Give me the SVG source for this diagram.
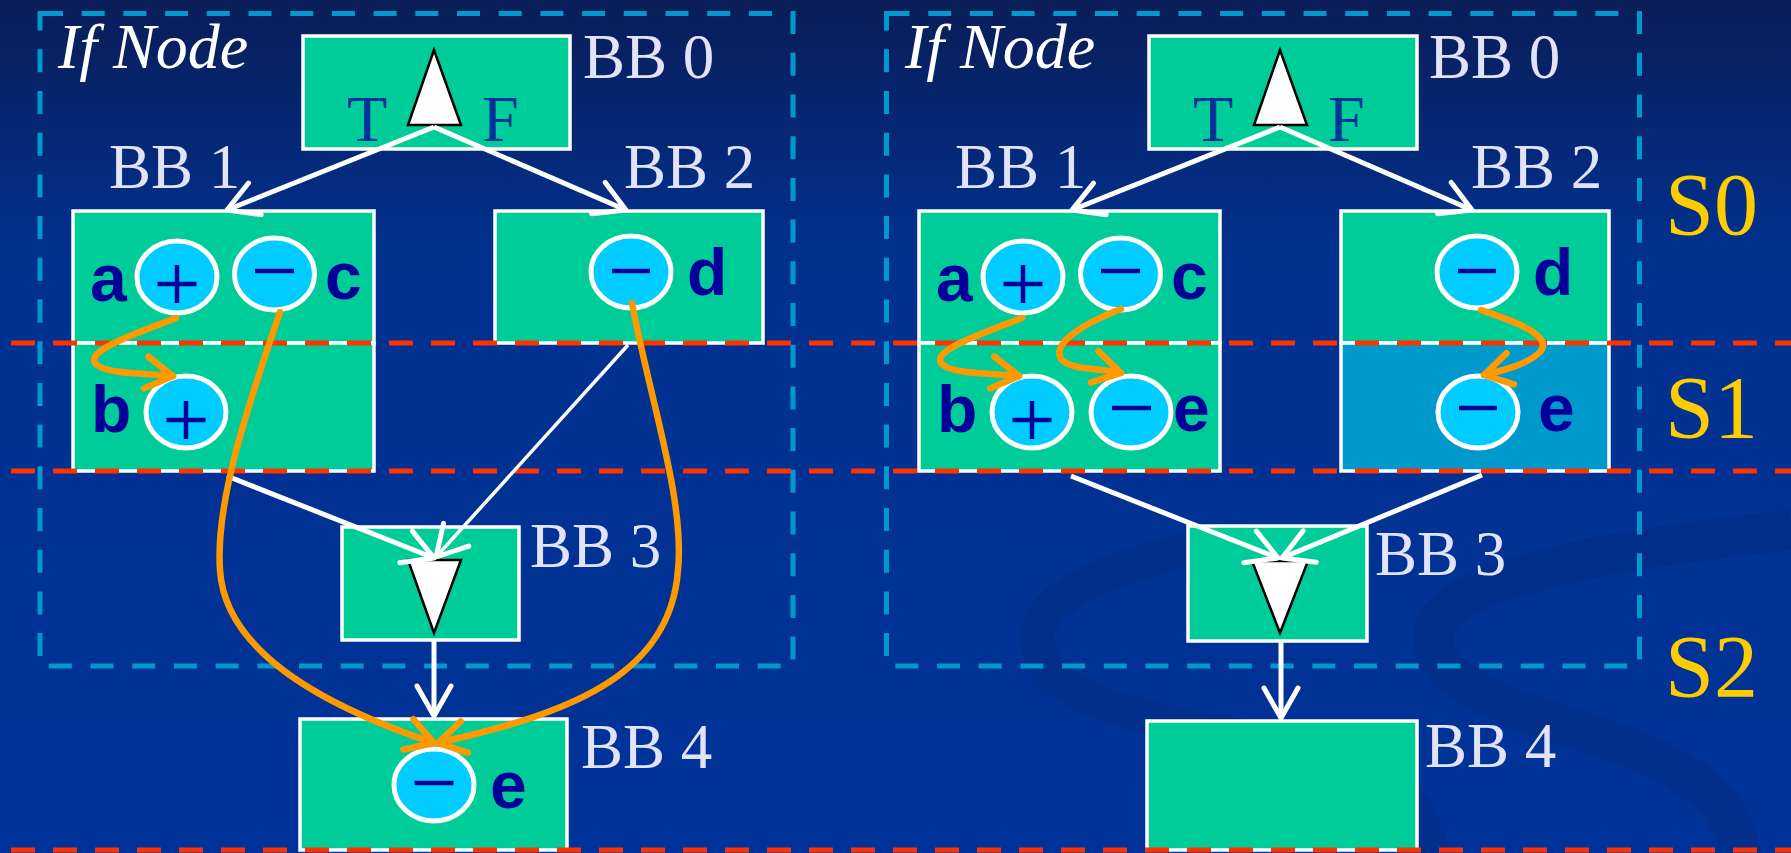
<svg xmlns="http://www.w3.org/2000/svg" width="1791" height="853" viewBox="0 0 1791 853">
<defs>
<linearGradient id="bg" x1="0" y1="0" x2="0" y2="853" gradientUnits="userSpaceOnUse">
<stop offset="0" stop-color="#0a1d58"/>
<stop offset="0.3" stop-color="#01318f"/>
<stop offset="1" stop-color="#003399"/>
</linearGradient>
<marker id="wa" markerUnits="userSpaceOnUse" viewBox="-40 -20 44 40" refX="0" refY="0" markerWidth="44" markerHeight="40" orient="auto" overflow="visible">
<path d="M-30,-17 L0,0 L-30,17" fill="none" stroke="#ffffff" stroke-width="5" stroke-linecap="round" stroke-linejoin="round"/>
</marker>
<marker id="oa" markerUnits="userSpaceOnUse" viewBox="-40 -20 44 40" refX="0" refY="0" markerWidth="44" markerHeight="40" orient="auto" overflow="visible">
<path d="M-27,-16 L0,0 L-27,16" fill="none" stroke="#ff9900" stroke-width="6.5" stroke-linecap="round" stroke-linejoin="round"/>
</marker>
</defs>
<style>
.box{fill:#00cc99;stroke:#ffffff;stroke-width:3.5}
.box2{fill:#0099cc;stroke:#ffffff;stroke-width:3.5}
.tri{fill:#ffffff;stroke:#000000;stroke-width:2.5;stroke-linejoin:miter}
.op{fill:#00ccff;stroke:#ffffff;stroke-width:5}
.sign{fill:none;stroke:#000099;stroke-width:4.5}
.bb{font-family:"Liberation Serif","Times New Roman",serif;font-size:63px;fill:#e2e2f8}
.tf{font-family:"Liberation Serif","Times New Roman",serif;font-size:66px;fill:#003399}
.var{font-family:"Liberation Sans",Arial,sans-serif;font-weight:bold;font-size:66px;fill:#000099}
.ifn{font-family:"Liberation Serif","Times New Roman",serif;font-style:italic;font-size:64px;fill:#ffffff}
.stage{font-family:"Liberation Serif","Times New Roman",serif;font-size:88px;fill:#ffcc00}
.region{fill:none;stroke:#0099cc;stroke-width:5;stroke-dasharray:23 18.7}
.cut{stroke:#ff3300;stroke-width:5;stroke-dasharray:24 18;stroke-dashoffset:31}
.w{fill:none;stroke:#ffffff;stroke-width:5;marker-end:url(#wa)}
.wt{fill:none;stroke:#ffffff;stroke-width:3.5;marker-end:url(#wa)}
.o{fill:none;stroke:#ff9900;stroke-width:6.5;stroke-linecap:round;marker-end:url(#oa)}
</style>
<rect x="0" y="0" width="1791" height="853" fill="url(#bg)"/>
<g id="background-swirls" fill="none" stroke="#032b85" stroke-opacity="0.6">
<path stroke-width="40" d="M1791,530 C1600,550 1445,580 1434,630 C1425,680 1500,705 1580,730 C1680,760 1735,800 1740,853"/>
<path stroke-width="34" d="M1250,535 C1100,565 1035,600 1037,640 C1040,690 1110,715 1250,738 C1380,760 1425,800 1432,853"/>
</g>
<g id="regions">
<rect class="region" x="40" y="13.5" width="753" height="652.5"/>
<rect class="region" x="886.5" y="13.5" width="753" height="652.5"/>
<text class="ifn" x="58" y="68">If Node</text>
<text class="ifn" x="905" y="68">If Node</text>
</g>
<g id="left-bb0">
<rect class="box" x="303" y="36" width="267" height="113"/>
<polygon class="tri" points="434,50 408,125 461,125"/>
<text class="tf" x="347" y="141">T</text>
<text class="tf" x="482" y="141">F</text>
<text class="bb" x="583" y="78">BB 0</text>
</g>
<g id="left-bb1">
<rect class="box" x="73" y="211" width="301" height="132"/>
<rect class="box" x="73" y="343" width="301" height="128"/>
<text class="bb" x="109" y="188">BB 1</text>
<text class="var" x="90" y="301">a</text>
<ellipse class="op" cx="177" cy="277" rx="40" ry="36"/>
<path class="sign" d="M157.5,284 H196.5 M177,265 V303"/>
<ellipse class="op" cx="274.5" cy="274" rx="40" ry="36"/>
<path class="sign" d="M255,271 H294" stroke-width="5"/>
<text class="var" x="325" y="299">c</text>
<text class="var" x="91" y="432">b</text>
<ellipse class="op" cx="186" cy="412" rx="40" ry="36"/>
<path class="sign" d="M166.5,420 H205.5 M186,401 V439"/>
</g>
<g id="left-bb2">
<rect class="box" x="495" y="211" width="268" height="132"/>
<text class="bb" x="624" y="188">BB 2</text>
<ellipse class="op" cx="631" cy="272" rx="40" ry="36"/>
<path class="sign" d="M612,271 H650" stroke-width="5"/>
<text class="var" x="687" y="295">d</text>
</g>
<g id="left-bb3">
<rect class="box" x="342" y="527" width="177" height="113"/>
<polygon class="tri" points="408,560 461,560 434,633"/>
<text class="bb" x="530" y="567">BB 3</text>
</g>
<g id="left-bb4">
<rect class="box" x="300" y="719" width="267" height="131"/>
<ellipse class="op" cx="434" cy="785" rx="40" ry="36"/>
<path class="sign" d="M414.5,783 H453.5" stroke-width="5"/>
<text class="var" x="490" y="808">e</text>
<text class="bb" x="581" y="768">BB 4</text>
</g>
<g id="right-bb0">
<rect class="box" x="1149" y="36" width="268" height="113"/>
<polygon class="tri" points="1280,50 1254,125 1307,125"/>
<text class="tf" x="1193" y="141">T</text>
<text class="tf" x="1328" y="141">F</text>
<text class="bb" x="1429" y="78">BB 0</text>
</g>
<g id="right-bb1">
<rect class="box" x="919" y="211" width="301" height="132"/>
<rect class="box" x="919" y="343" width="301" height="128"/>
<text class="bb" x="955" y="188">BB 1</text>
<text class="var" x="936" y="301">a</text>
<ellipse class="op" cx="1023" cy="277" rx="40" ry="36"/>
<path class="sign" d="M1003.5,284 H1042.5 M1023,265 V303"/>
<ellipse class="op" cx="1120.5" cy="274" rx="40" ry="36"/>
<path class="sign" d="M1101,271 H1140" stroke-width="5"/>
<text class="var" x="1171" y="299">c</text>
<text class="var" x="937" y="432">b</text>
<ellipse class="op" cx="1032" cy="412" rx="40" ry="36"/>
<path class="sign" d="M1012.5,420 H1051.5 M1032,401 V439"/>
<ellipse class="op" cx="1131" cy="412" rx="40" ry="36"/>
<path class="sign" d="M1112,408 H1151" stroke-width="5"/>
<text class="var" x="1173" y="431">e</text>
</g>
<g id="right-bb2">
<rect class="box" x="1341" y="211" width="268" height="132"/>
<rect class="box2" x="1341" y="343" width="268" height="128"/>
<text class="bb" x="1471" y="188">BB 2</text>
<ellipse class="op" cx="1477" cy="272" rx="40" ry="36"/>
<path class="sign" d="M1458,271 H1496" stroke-width="5"/>
<text class="var" x="1533" y="295">d</text>
<ellipse class="op" cx="1478" cy="412" rx="40" ry="36"/>
<path class="sign" d="M1459,408 H1497" stroke-width="5"/>
<text class="var" x="1538" y="431">e</text>
</g>
<g id="right-bb3">
<rect class="box" x="1188" y="526" width="179" height="115"/>
<polygon class="tri" points="1252,561 1308,561 1280,633"/>
<text class="bb" x="1375" y="575">BB 3</text>
</g>
<g id="right-bb4">
<rect class="box" x="1147" y="721" width="270" height="129"/>
<text class="bb" x="1425" y="767">BB 4</text>
</g>
<g id="stages">
<line class="cut" x1="0" y1="343" x2="1791" y2="343"/>
<line class="cut" x1="0" y1="471" x2="1791" y2="471"/>
<line class="cut" x1="0" y1="850" x2="1791" y2="850"/>
<text class="stage" x="1665" y="234">S0</text>
<text class="stage" x="1665" y="437">S1</text>
<text class="stage" x="1665" y="696">S2</text>
</g>
<g id="connectors">
<line class="w" x1="434" y1="127" x2="227" y2="210"/>
<line class="w" x1="434" y1="127" x2="626" y2="210"/>
<line class="w" x1="227" y1="476" x2="434" y2="558"/>
<line class="wt" x1="628" y1="345" x2="436" y2="557"/>
<line class="w" x1="434" y1="640" x2="434" y2="716"/>
<line class="w" x1="1280" y1="127" x2="1072" y2="210"/>
<line class="w" x1="1280" y1="127" x2="1472" y2="210"/>
<line class="w" x1="1071" y1="476" x2="1278" y2="558"/>
<line class="w" x1="1482" y1="475" x2="1282" y2="558"/>
<line class="w" x1="1281" y1="640" x2="1281" y2="718"/>
<path class="o" d="M176,318 C140,332 80,352 97,365 C110,375 150,373 173,376"/>
<path class="o" d="M280,312 C250,400 215,500 220,570 C225,650 320,705 434,743"/>
<path class="o" d="M632,303 C650,400 685,500 678,570 C670,680 560,715 438,743"/>
<path class="o" d="M1022,318 C986,332 926,352 943,365 C956,375 996,373 1019,376"/>
<path class="o" d="M1121,309 C1080,325 1050,345 1062,360 C1072,370 1100,368 1121,373"/>
<path class="o" d="M1481,310 C1510,320 1555,335 1540,352 C1528,364 1505,370 1484,375"/>
</g>
</svg>
